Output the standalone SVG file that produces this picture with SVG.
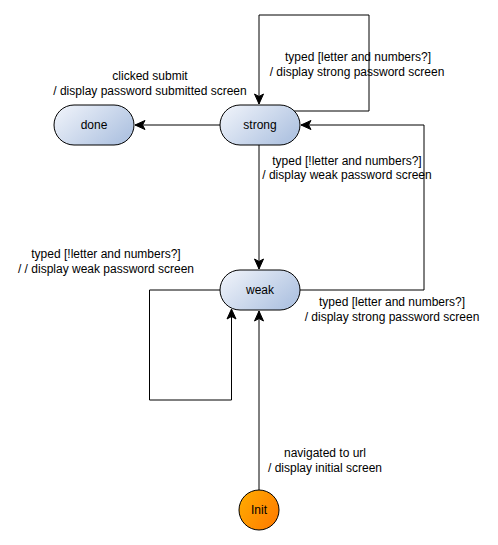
<svg xmlns="http://www.w3.org/2000/svg" width="498" height="545" viewBox="0 0 498 545">
<style>
.st{stroke:#000;stroke-width:1;fill:url(#g)}
.ln{fill:none;stroke:#000;stroke-width:1}
text{font-family:"Liberation Sans",Arial,sans-serif;font-size:12px;fill:#000;text-anchor:middle}
</style>
<defs>
<linearGradient id="g" x1="0" y1="0" x2="1" y2="0.6">
<stop offset="0" stop-color="#f2f5fb"/>
<stop offset="1" stop-color="#b2c5e2"/>
</linearGradient>
<linearGradient id="o" x1="0" y1="0" x2="1" y2="0.6">
<stop offset="0" stop-color="#ffad00"/>
<stop offset="1" stop-color="#ff8000"/>
</linearGradient>
<marker id="a" markerWidth="12" markerHeight="12" viewBox="0 0 12 12" refX="11" refY="6" orient="auto" markerUnits="userSpaceOnUse">
<path d="M1,1.5 L11,6 L1,10.5 L3.5,6 Z" fill="#000" stroke="#000" stroke-width="1"/>
</marker>
</defs>
<g id="connectors">
<path class="ln" d="M294,111 H369 V15 H259 V104" marker-end="url(#a)"/>
<path class="ln" d="M220,125 H135" marker-end="url(#a)"/>
<path class="ln" d="M259,145 V269" marker-end="url(#a)"/>
<path class="ln" d="M300,290 H424 V125 H301" marker-end="url(#a)"/>
<path class="ln" d="M220,290 H149.5 V400 H231.5 V309" marker-end="url(#a)"/>
<path class="ln" d="M259,490 V311" marker-end="url(#a)"/>
</g>
<g id="labels">
<text x="358" y="61">typed [letter and numbers?]</text>
<text x="357" y="76">/ display strong password screen</text>
<text x="150" y="80">clicked submit</text>
<text x="150" y="95">/ display password submitted screen</text>
<text x="347" y="165">typed [!letter and numbers?]</text>
<text x="347" y="179">/ display weak password screen</text>
<text x="106" y="258">typed [!letter and numbers?]</text>
<text x="106" y="273">/ / display weak password screen</text>
<text x="392" y="306">typed [letter and numbers?]</text>
<text x="392" y="321">/ display strong password screen</text>
<text x="325" y="457">navigated to url</text>
<text x="325" y="472">/ display initial screen</text>
</g>
<g id="done"><rect class="st" x="54" y="105" width="80" height="40" rx="20"/><text x="94" y="129">done</text></g>
<g id="strong"><rect class="st" x="220" y="105" width="80" height="40" rx="20"/><text x="260" y="129">strong</text></g>
<g id="weak"><rect class="st" x="220" y="270" width="80" height="40" rx="20"/><text x="260" y="294">weak</text></g>
<g id="init"><circle cx="259" cy="510" r="20" fill="url(#o)" stroke="#000"/><text x="259" y="514">Init</text></g>
</svg>
